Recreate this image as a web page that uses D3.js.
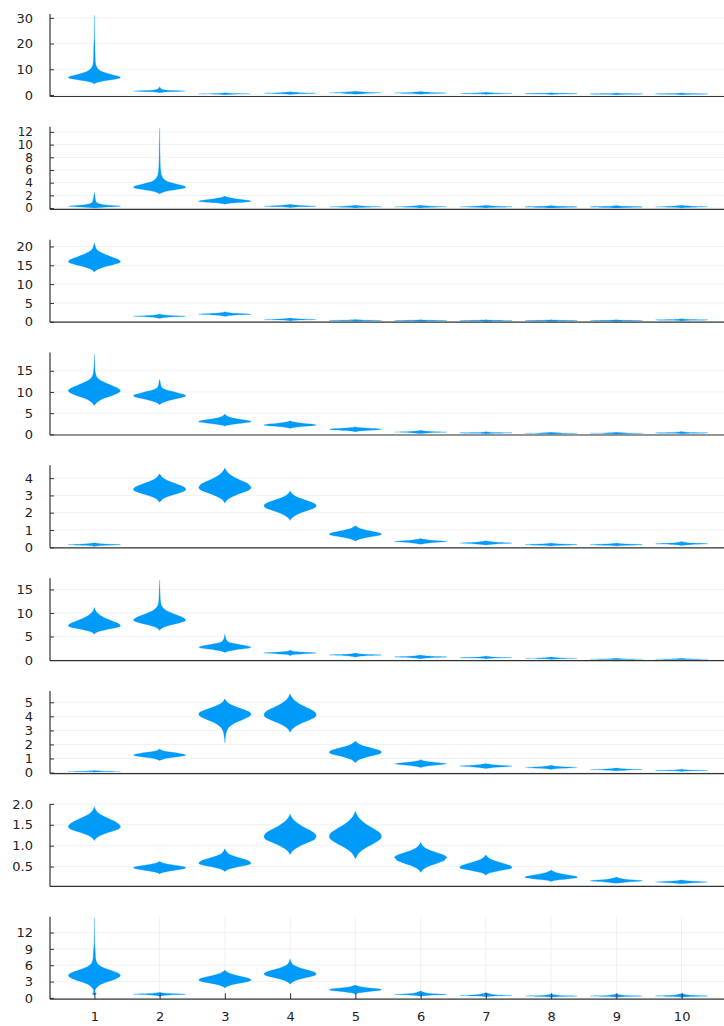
<!DOCTYPE html>
<html>
<head>
<meta charset="utf-8">
<script src="https://cdn.jsdelivr.net/npm/d3@7"></script>
<style>
  html, body { margin: 0; padding: 0; background: #fff; }
  svg { display: block; }
  text { font-family: "DejaVu Sans", sans-serif; font-size: 13px; fill: #222; }
</style>
</head>
<body>
<svg id="chart" width="724" height="1026"></svg>
<script>
// Categories along the shared x axis
const categories = [1, 2, 3, 4, 5, 6, 7, 8, 9, 10];

// Y domains and tick values of the nine stacked panels
const yDomains = [
  [-0.6, 31.5], [-0.2, 12.8], [-0.1, 21.8], [-0.15, 19.3], [-0.035, 4.74],
  [-0.15, 17.4], [-0.07, 5.8], [0.026, 2.0], [-0.24, 14.9]
];
const yTicks = [
  [0, 10, 20, 30],
  [0, 2, 4, 6, 8, 10, 12],
  [0, 5, 10, 15, 20],
  [0, 5, 10, 15],
  [0, 1, 2, 3, 4],
  [0, 5, 10, 15],
  [0, 1, 2, 3, 4, 5],
  [0.5, 1.0, 1.5, 2.0],
  [0, 3, 6, 9, 12]
];
const yTickFormats = ["d", "d", "d", "d", "d", "d", "d", ".1f", "d"];
const yTickFontSizes = [13, 12, 13, 13, 13, 13, 13, 13, 13];

// Violin profiles: [value, relative density] knots, one list per category
const panel1 = [
  [[4.3,0],[4.7,0.06],[5.05,0.16],[5.55,0.4],[6.05,0.72],[6.43,0.93],[6.8,1],[7.3,0.92],[7.9,0.68],[8.8,0.36],[10,0.16],[11.2,0.08],[12.5,0.045],[14,0.035],[16,0.03],[18,0.025],[20,0.02],[22,0.01],[26,0.006],[31,0]],
  [[0.9,0],[1.1,0.14],[1.25,0.38],[1.38,0.7],[1.45,0.93],[1.5,1],[1.58,0.9],[1.7,0.58],[1.85,0.3],[2.1,0.12],[2.6,0.04],[3.3,0]],
  [[0.05,0],[0.3,0.4],[0.45,1],[0.6,0.4],[0.9,0]],
  [[0.2,0],[0.5,0.4],[0.7,1],[0.9,0.4],[1.2,0]],
  [[0.3,0],[0.6,0.4],[0.85,1],[1.1,0.4],[1.4,0]],
  [[0.3,0],[0.55,0.4],[0.8,1],[1.0,0.4],[1.3,0]],
  [[0.2,0],[0.45,0.4],[0.6,1],[0.8,0.4],[1.1,0]],
  [[0.1,0],[0.35,0.4],[0.5,1],[0.65,0.4],[0.9,0]],
  [[0.05,0],[0.25,0.4],[0.4,1],[0.55,0.4],[0.8,0]],
  [[0.05,0],[0.25,0.4],[0.4,1],[0.55,0.4],[0.8,0]]
];
const panel2 = [
  [[0,0],[0.15,0.5],[0.3,1],[0.5,0.45],[0.8,0.12],[1.2,0.05],[1.7,0.03],[2.5,0]],
  [[2.2,0],[2.37,0.06],[2.53,0.16],[2.75,0.4],[2.97,0.72],[3.14,0.93],[3.3,1],[3.5,0.92],[3.75,0.68],[4.1,0.36],[4.6,0.16],[5.1,0.08],[5.7,0.05],[6.5,0.03],[8,0.02],[10,0.012],[12.6,0]],
  [[0.6,0],[0.67,0.06],[0.74,0.16],[0.83,0.4],[0.92,0.72],[0.98,0.93],[1.05,1],[1.18,0.93],[1.3,0.72],[1.47,0.4],[1.65,0.16],[1.78,0.06],[1.9,0]],
  [[0.05,0],[0.2,0.4],[0.3,1],[0.42,0.4],[0.6,0]],
  [[0.02,0],[0.12,0.4],[0.2,1],[0.3,0.4],[0.45,0]],
  [[0.02,0],[0.12,0.4],[0.2,1],[0.3,0.4],[0.45,0]],
  [[0.02,0],[0.12,0.4],[0.2,1],[0.3,0.4],[0.45,0]],
  [[0.02,0],[0.1,0.4],[0.18,1],[0.27,0.4],[0.42,0]],
  [[0.02,0],[0.1,0.4],[0.18,1],[0.27,0.4],[0.42,0]],
  [[0.02,0],[0.12,0.4],[0.2,1],[0.3,0.4],[0.45,0]]
];
const panel3 = [
  [[13.2,0],[13.6,0.06],[14.0,0.16],[14.6,0.4],[15.15,0.72],[15.6,0.93],[16,1],[16.6,0.9],[17.3,0.64],[18.2,0.32],[19,0.12],[19.8,0.05],[20.5,0.02],[21,0]],
  [[0.9,0],[1.3,0.4],[1.5,1],[1.7,0.4],[2.1,0]],
  [[1.4,0],[1.8,0.4],[2.0,1],[2.25,0.4],[2.7,0]],
  [[0.2,0],[0.45,0.4],[0.6,1],[0.75,0.4],[1.0,0]],
  [[0.1,0],[0.25,0.4],[0.35,1],[0.45,0.4],[0.6,0]],
  [[0.08,0],[0.2,0.4],[0.3,1],[0.4,0.4],[0.55,0]],
  [[0.08,0],[0.2,0.4],[0.3,1],[0.4,0.4],[0.55,0]],
  [[0.08,0],[0.2,0.4],[0.3,1],[0.4,0.4],[0.55,0]],
  [[0.08,0],[0.2,0.4],[0.3,1],[0.4,0.4],[0.55,0]],
  [[0.2,0],[0.4,0.4],[0.5,1],[0.6,0.4],[0.8,0]]
];
const panel4 = [
  [[6.8,0],[7.3,0.06],[7.8,0.16],[8.55,0.4],[9.25,0.72],[9.8,0.93],[10.3,1],[10.9,0.9],[11.6,0.64],[12.4,0.34],[13.2,0.14],[14,0.06],[15,0.03],[16.5,0.015],[19,0]],
  [[7,0],[7.3,0.06],[7.55,0.16],[8.05,0.4],[8.5,0.72],[8.8,0.93],[9.1,1],[9.45,0.9],[9.9,0.64],[10.4,0.3],[10.9,0.12],[11.5,0.05],[12.2,0.03],[13,0]],
  [[1.9,0],[2.07,0.06],[2.23,0.16],[2.45,0.4],[2.67,0.72],[2.84,0.93],[3,1],[3.25,0.9],[3.5,0.64],[3.85,0.3],[4.2,0.12],[4.5,0.05],[4.8,0]],
  [[1.4,0],[1.52,0.06],[1.64,0.16],[1.8,0.4],[1.96,0.72],[2.08,0.93],[2.2,1],[2.35,0.93],[2.5,0.72],[2.7,0.4],[2.9,0.16],[3.05,0.06],[3.2,0]],
  [[0.6,0],[0.69,0.06],[0.78,0.16],[0.9,0.4],[1.02,0.72],[1.11,0.93],[1.2,1],[1.29,0.93],[1.38,0.72],[1.5,0.4],[1.62,0.16],[1.71,0.06],[1.8,0]],
  [[0.2,0],[0.4,0.4],[0.55,1],[0.7,0.4],[1.0,0]],
  [[0.1,0],[0.25,0.4],[0.35,1],[0.45,0.4],[0.65,0]],
  [[0.05,0],[0.15,0.4],[0.25,1],[0.35,0.4],[0.5,0]],
  [[0.05,0],[0.15,0.4],[0.25,1],[0.35,0.4],[0.5,0]],
  [[0.1,0],[0.25,0.4],[0.35,1],[0.45,0.4],[0.7,0]]
];
const panel5 = [
  [[0.05,0],[0.11,0.4],[0.15,1],[0.19,0.4],[0.26,0]],
  [[2.6,0],[2.71,0.06],[2.83,0.16],[2.98,0.4],[3.13,0.72],[3.24,0.93],[3.35,1],[3.49,0.93],[3.62,0.72],[3.8,0.4],[3.98,0.16],[4.12,0.06],[4.25,0]],
  [[2.55,0],[2.69,0.06],[2.82,0.16],[3.0,0.4],[3.18,0.72],[3.32,0.93],[3.45,1],[3.62,0.93],[3.8,0.72],[4.03,0.4],[4.26,0.16],[4.43,0.06],[4.6,0]],
  [[1.55,0],[1.68,0.06],[1.8,0.16],[1.98,0.4],[2.15,0.72],[2.27,0.93],[2.4,1],[2.53,0.93],[2.66,0.72],[2.83,0.4],[3.0,0.16],[3.12,0.06],[3.25,0]],
  [[0.35,0],[0.41,0.06],[0.47,0.16],[0.55,0.4],[0.63,0.72],[0.69,0.93],[0.75,1],[0.83,0.93],[0.9,0.72],[1.0,0.4],[1.1,0.16],[1.18,0.06],[1.25,0]],
  [[0.17,0],[0.26,0.4],[0.33,1],[0.4,0.4],[0.5,0]],
  [[0.13,0],[0.19,0.4],[0.24,1],[0.29,0.4],[0.37,0]],
  [[0.07,0],[0.11,0.4],[0.15,1],[0.19,0.4],[0.25,0]],
  [[0.07,0],[0.11,0.4],[0.15,1],[0.19,0.4],[0.25,0]],
  [[0.1,0],[0.16,0.4],[0.2,1],[0.24,0.4],[0.34,0]]
];
const panel6 = [
  [[5.5,0],[5.77,0.06],[6.04,0.16],[6.4,0.4],[6.76,0.72],[7.03,0.93],[7.3,1],[7.8,0.9],[8.4,0.64],[9.2,0.32],[9.9,0.14],[10.5,0.05],[11.2,0]],
  [[6.3,0],[6.63,0.06],[6.96,0.16],[7.4,0.4],[7.84,0.72],[8.17,0.93],[8.5,1],[9.0,0.9],[9.6,0.64],[10.3,0.33],[11,0.15],[11.8,0.06],[12.6,0.035],[14,0.02],[15.5,0.012],[17,0]],
  [[1.6,0],[1.77,0.06],[1.93,0.16],[2.15,0.4],[2.37,0.72],[2.54,0.93],[2.7,1],[2.95,0.9],[3.25,0.6],[3.6,0.27],[4.0,0.1],[4.5,0.04],[5.0,0.02],[5.5,0]],
  [[0.9,0],[1.15,0.12],[1.3,0.45],[1.5,1],[1.7,0.4],[1.85,0.12],[2.1,0]],
  [[0.6,0],[0.9,0.4],[1.05,1],[1.2,0.4],[1.5,0]],
  [[0.25,0],[0.5,0.4],[0.65,1],[0.8,0.4],[1.05,0]],
  [[0.2,0],[0.4,0.4],[0.5,1],[0.6,0.4],[0.85,0]],
  [[0.1,0],[0.25,0.4],[0.35,1],[0.45,0.4],[0.65,0]],
  [[0.03,0],[0.1,0.4],[0.15,1],[0.22,0.4],[0.35,0]],
  [[0.03,0],[0.1,0.4],[0.15,1],[0.22,0.4],[0.35,0]]
];
const panel7 = [
  [[0.03,0],[0.06,0.4],[0.08,1],[0.1,0.4],[0.14,0]],
  [[0.85,0],[0.91,0.06],[0.97,0.16],[1.05,0.4],[1.13,0.72],[1.19,0.93],[1.25,1],[1.31,0.93],[1.38,0.72],[1.46,0.4],[1.54,0.16],[1.61,0.06],[1.67,0]],
  [[2.1,0],[2.6,0.03],[3.0,0.08],[3.3,0.2],[3.55,0.4],[3.8,0.72],[3.98,0.93],[4.15,1],[4.32,0.93],[4.48,0.72],[4.7,0.4],[4.92,0.16],[5.08,0.06],[5.25,0]],
  [[2.85,0],[3.04,0.06],[3.22,0.16],[3.48,0.4],[3.72,0.72],[3.91,0.93],[4.1,1],[4.33,0.93],[4.55,0.72],[4.85,0.4],[5.15,0.16],[5.38,0.06],[5.6,0]],
  [[0.7,0],[0.81,0.06],[0.93,0.16],[1.08,0.4],[1.23,0.72],[1.34,0.93],[1.45,1],[1.57,0.93],[1.69,0.72],[1.85,0.4],[2.01,0.16],[2.13,0.06],[2.25,0]],
  [[0.35,0],[0.43,0.15],[0.5,0.42],[0.57,0.82],[0.62,1],[0.68,0.78],[0.75,0.42],[0.83,0.15],[0.92,0]],
  [[0.28,0],[0.38,0.4],[0.46,1],[0.54,0.4],[0.65,0]],
  [[0.22,0],[0.3,0.4],[0.36,1],[0.42,0.4],[0.52,0]],
  [[0.12,0],[0.17,0.4],[0.21,1],[0.25,0.4],[0.32,0]],
  [[0.08,0],[0.12,0.4],[0.15,1],[0.18,0.4],[0.24,0]]
];
const panel8 = [
  [[1.12,0],[1.17,0.06],[1.22,0.16],[1.285,0.4],[1.35,0.72],[1.4,0.93],[1.45,1],[1.52,0.93],[1.6,0.72],[1.7,0.38],[1.79,0.14],[1.86,0.05],[1.94,0]],
  [[0.32,0],[0.345,0.06],[0.365,0.16],[0.395,0.4],[0.425,0.72],[0.45,0.93],[0.47,1],[0.495,0.93],[0.52,0.72],[0.55,0.4],[0.58,0.16],[0.605,0.06],[0.63,0]],
  [[0.38,0],[0.41,0.06],[0.44,0.16],[0.48,0.4],[0.52,0.72],[0.55,0.93],[0.58,1],[0.63,0.93],[0.68,0.72],[0.74,0.4],[0.8,0.16],[0.86,0.06],[0.93,0]],
  [[0.78,0],[0.85,0.06],[0.91,0.16],[1.0,0.4],[1.09,0.72],[1.15,0.93],[1.22,1],[1.3,0.93],[1.38,0.72],[1.49,0.4],[1.6,0.16],[1.68,0.06],[1.76,0]],
  [[0.68,0],[0.76,0.06],[0.84,0.16],[0.95,0.4],[1.06,0.72],[1.14,0.93],[1.22,1],[1.31,0.93],[1.4,0.72],[1.52,0.4],[1.65,0.16],[1.74,0.06],[1.83,0]],
  [[0.36,0],[0.41,0.06],[0.46,0.16],[0.53,0.4],[0.6,0.72],[0.65,0.92],[0.68,0.94],[0.72,1],[0.77,0.9],[0.84,0.58],[0.92,0.25],[1.0,0.08],[1.08,0]],
  [[0.29,0],[0.32,0.06],[0.35,0.16],[0.385,0.4],[0.425,0.72],[0.45,0.93],[0.48,1],[0.525,0.93],[0.57,0.72],[0.63,0.4],[0.69,0.16],[0.735,0.06],[0.78,0]],
  [[0.14,0],[0.155,0.06],[0.17,0.16],[0.19,0.4],[0.21,0.72],[0.225,0.93],[0.24,1],[0.267,0.93],[0.294,0.72],[0.33,0.4],[0.366,0.16],[0.393,0.06],[0.42,0]],
  [[0.1,0],[0.13,0.45],[0.16,1],[0.19,0.45],[0.25,0]],
  [[0.09,0],[0.11,0.45],[0.13,1],[0.15,0.45],[0.18,0]]
];
const panel9 = [
  [[0.5,0],[0.65,0.06],[0.8,0.08],[1.0,0.03],[1.4,0.03],[1.8,0.08],[2.3,0.18],[2.8,0.4],[3.3,0.72],[3.75,0.93],[4.1,1],[4.5,0.93],[4.95,0.7],[5.5,0.38],[6.1,0.16],[6.7,0.08],[7.3,0.05],[8,0.04],[9,0.03],[10,0.012],[14.6,0]],
  [[0.3,0],[0.55,0.4],[0.68,1],[0.8,0.4],[1.05,0]],
  [[1.8,0],[2.03,0.06],[2.25,0.16],[2.55,0.4],[2.85,0.72],[3.08,0.93],[3.3,1],[3.57,0.93],[3.84,0.72],[4.2,0.4],[4.56,0.16],[4.83,0.06],[5.1,0]],
  [[2.5,0],[2.79,0.06],[3.07,0.16],[3.45,0.4],[3.83,0.72],[4.12,0.93],[4.4,1],[4.75,0.92],[5.1,0.68],[5.6,0.34],[6.1,0.12],[6.6,0.04],[7.2,0]],
  [[0.7,0],[0.82,0.06],[0.94,0.16],[1.1,0.4],[1.26,0.72],[1.38,0.93],[1.5,1],[1.63,0.93],[1.76,0.72],[1.93,0.4],[2.1,0.16],[2.22,0.06],[2.35,0]],
  [[0.3,0],[0.5,0.4],[0.62,1],[0.8,0.35],[1.3,0]],
  [[0.2,0],[0.35,0.4],[0.45,1],[0.6,0.35],[1.0,0]],
  [[0.1,0],[0.25,0.4],[0.35,1],[0.45,0.35],[0.7,0]],
  [[0.1,0],[0.25,0.4],[0.35,1],[0.45,0.35],[0.7,0]],
  [[0.1,0],[0.25,0.4],[0.35,1],[0.5,0.35],[0.8,0]]
];
const panels = [panel1, panel2, panel3, panel4, panel5, panel6, panel7, panel8, panel9];

// Layout
const svg = d3.select("#chart");
const left = 50, right = 726;
const firstTop = 14, step = 112.84, plotH = 82.5;
const violinColor = "#009af9";
const axisColor = "#333";

const x = d3.scaleLinear().domain([0.32, 10.68]).range([left, right]);
const halfWidth = x(1.4) - x(1);   // violins span 0.8 category units

panels.forEach((violins, i) => {
  const top = firstTop + i * step;
  const bottom = top + plotH;
  const y = d3.scaleLinear().domain(yDomains[i]).range([bottom, top]);
  const g = svg.append("g");
  const isLast = i === panels.length - 1;

  // horizontal grid
  g.selectAll("line.hgrid").data(yTicks[i]).join("line")
    .attr("x1", left).attr("x2", right)
    .attr("y1", d => y(d)).attr("y2", d => y(d))
    .attr("stroke", "#000").attr("stroke-opacity", 0.1).attr("stroke-width", 0.6);

  // vertical grid on the bottom panel only
  if (isLast) {
    g.selectAll("line.vgrid").data(categories).join("line")
      .attr("x1", d => x(d)).attr("x2", d => x(d))
      .attr("y1", top).attr("y2", bottom)
      .attr("stroke", "#000").attr("stroke-opacity", 0.1).attr("stroke-width", 0.6);
  }

  // violins
  const area = d3.area()
    .curve(d3.curveMonotoneY)
    .y(d => y(d[0]));
  violins.forEach((knots, c) => {
    const cx = x(categories[c]);
    const pts = knots.slice().reverse();
    area.x0(d => cx - d[1] * halfWidth).x1(d => cx + d[1] * halfWidth);
    g.append("path")
      .attr("d", area(pts))
      .attr("fill", violinColor)
      .attr("stroke", violinColor)
      .attr("stroke-width", 0.4)
      .attr("stroke-opacity", 0.6);
  });

  // y axis
  const fmt = d3.format(yTickFormats[i]);
  const yAxis = d3.axisLeft(y).tickValues(yTicks[i]).tickFormat(fmt)
    .tickSizeInner(-4).tickSizeOuter(0).tickPadding(17);
  const ya = g.append("g").attr("transform", `translate(${left},0)`).call(yAxis);
  ya.select(".domain").attr("d", `M0,${top}V${bottom}`).attr("stroke", axisColor).attr("stroke-width", 1.2);
  ya.selectAll(".tick line").attr("stroke", axisColor).attr("stroke-width", 1);
  ya.selectAll("text").attr("fill", "#222").style("font-size", yTickFontSizes[i] + "px")
    .style("font-family", "'DejaVu Sans', sans-serif");

  // x axis line
  g.append("line")
    .attr("x1", left).attr("x2", right).attr("y1", bottom).attr("y2", bottom)
    .attr("stroke", axisColor).attr("stroke-width", 1.2);

  if (isLast) {
    const xAxis = d3.axisBottom(x).tickValues(categories).tickFormat(d3.format("d"))
      .tickSizeInner(-6).tickSizeOuter(0).tickPadding(13);
    const xa = g.append("g").attr("transform", `translate(0,${bottom})`).call(xAxis);
    xa.select(".domain").remove();
    xa.selectAll(".tick line").attr("stroke", axisColor).attr("stroke-width", 1);
    xa.selectAll("text").attr("fill", "#222").style("font-size", "13px")
      .style("font-family", "'DejaVu Sans', sans-serif");
  }
});
</script>
</body>
</html>
